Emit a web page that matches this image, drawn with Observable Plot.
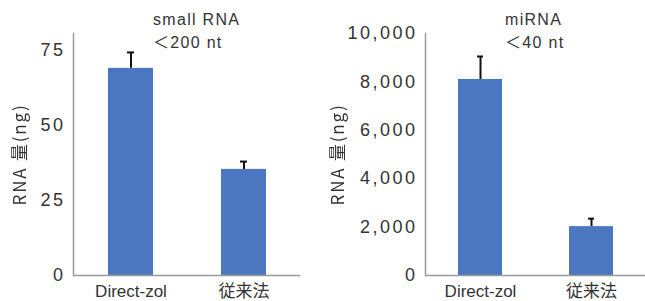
<!DOCTYPE html>
<html>
<head>
<meta charset="utf-8">
<script src="https://cdn.jsdelivr.net/npm/d3@7"></script>
<script src="https://cdn.jsdelivr.net/npm/@observablehq/plot@0.6"></script>
<style>
  html, body { margin: 0; padding: 0; background: #fff; }
  #wrap { position: relative; width: 645px; height: 301px; overflow: hidden; background: #fff;
          font-family: "Liberation Sans", Arial, "Noto Sans CJK JP", sans-serif; color: #333; }
  .panel { position: absolute; top: 0; }
  .title { position: absolute; font-size: 16px; letter-spacing: 1.3px; line-height: 23px; color: #333; white-space: nowrap;
           font-family: "Liberation Sans", Arial, "Noto Sans CJK JP", sans-serif; }
  g[aria-label="y-axis tick label"] text { letter-spacing: 2.5px; }
  g[aria-label="y-axis label"] { filter: grayscale(1); }
  g[aria-label="y-axis label"] text { letter-spacing: 1.8px; font-family: "Noto Sans CJK JP", sans-serif; font-size: 17px; }
</style>
</head>
<body>
<div id="wrap"></div>
<script>
// ---- data ----
const categories = ["Direct-zol", "従来法"];
const smallValues = [68.9, 35.3];
const smallUpper = [74.2, 37.9];
const miValues = [8100, 2020];
const miUpper = [9050, 2350];
const smallTicks = [0, 25, 50, 75];
const miTicks = [0, 2000, 4000, 6000, 8000, 10000];
const titles = [["small RNA", "＜200 nt"], ["miRNA", "＜40 nt"]];
const yLabel = "RNA 量(ng)";

const barColor = "#4b77c1";
const axisColor = "#9a9a9a";
const font = '"Liberation Sans", Arial, "Noto Sans CJK JP", sans-serif';

function makePanel(values, upper, ticks, yMax, opts) {
  const data = categories.map((c, i) => ({cat: c, value: values[i], upper: upper[i]}));
  return Plot.plot({
    width: opts.width,
    height: 301,
    marginLeft: opts.marginLeft,
    marginRight: opts.marginRight,
    marginTop: 33,
    marginBottom: 26,
    style: {fontFamily: font, fontSize: "18px", color: "#333", background: "transparent", overflow: "visible"},
    x: {domain: categories, paddingInner: opts.paddingInner, paddingOuter: opts.paddingOuter, axis: null},
    y: {domain: [0, yMax], axis: null},
    marks: [
      Plot.barY(data, {x: "cat", y: "value", fill: barColor}),
      Plot.ruleX(data, {x: "cat", y1: "value", y2: "upper", stroke: "#111", strokeWidth: 2}),
      Plot.tickY(data, {x: "cat", y: "upper", stroke: "#111", strokeWidth: 2, insetLeft: opts.capInset, insetRight: opts.capInset}),
      Plot.frame({anchor: "left", stroke: axisColor, strokeWidth: 1.5}),
      Plot.ruleY([0], {stroke: axisColor, strokeWidth: 1.5}),
      Plot.axisY({ticks: ticks, tickSize: 0, tickPadding: opts.tickPadding, tickFormat: d3.format(","),
                  fontSize: 18, label: yLabel, labelAnchor: "center", labelArrow: "none", labelOffset: opts.labelOffset}),
      Plot.axisX({tickSize: 0, tickPadding: 9, fontSize: 17, label: null})
    ]
  });
}

const wrap = document.getElementById("wrap");

const left = makePanel(smallValues, smallUpper, smallTicks, 80.5,
  {width: 320, marginLeft: 73, marginRight: 20, paddingInner: 0.602, paddingOuter: 0.305, capInset: 19, tickPadding: 8, labelOffset: 60});
left.classList.add("panel");
left.style.left = "0px";
wrap.appendChild(left);

const right = makePanel(miValues, miUpper, miTicks, 10000,
  {width: 325, marginLeft: 105, marginRight: 0, paddingInner: 0.607, paddingOuter: 0.29, capInset: 19, tickPadding: 8, labelOffset: 94});
right.classList.add("panel");
right.style.left = "320px";
wrap.appendChild(right);

// titles
const tpos = [[153, 8], [505, 8]];
titles.forEach((t, i) => {
  const d = document.createElement("div");
  d.className = "title";
  d.style.left = tpos[i][0] + "px";
  d.style.top = tpos[i][1] + "px";
  d.innerHTML = t.map(s => s.replace(/&/g, "&amp;").replace(/</g, "&lt;")).join("<br>");
  wrap.appendChild(d);
});
</script>
</body>
</html>
